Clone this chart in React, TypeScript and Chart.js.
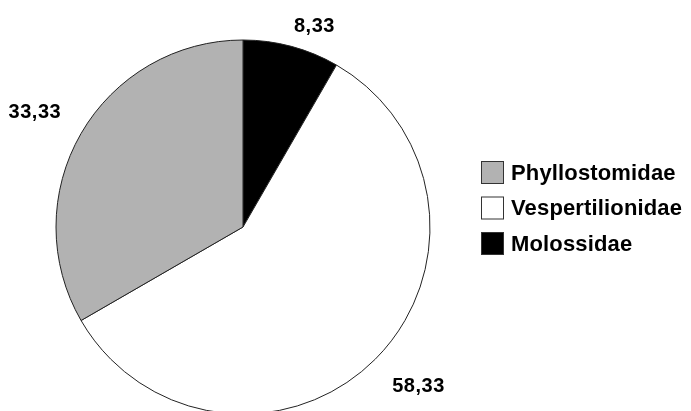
import React, { useEffect, useRef } from "react";
import { Chart, registerables } from "chart.js";

Chart.register(...registerables);

// Legend order (top to bottom)
const categories = ["Phyllostomidae", "Vespertilionidae", "Molossidae"];
const values = [33.33, 58.33, 8.33];
const colors = ["#b2b2b2", "#ffffff", "#000000"];

const FONT = "'Liberation Sans', Arial, Helvetica, sans-serif";

const formatValue = (v: number) => v.toFixed(2).replace(".", ",");

const valueLabelPlugin = {
  id: "valueLabels",
  afterDatasetsDraw(chart: any, _args: any, opts: any) {
    const ctx = chart.ctx;
    const meta = chart.getDatasetMeta(0);
    const ds = chart.data.datasets[0];
    const gaps: number[] = opts.gaps || [];
    ctx.save();
    ctx.font = `bold 20px ${FONT}`;
    (ctx as any).letterSpacing = "0.5px";
    ctx.fillStyle = "#000";
    meta.data.forEach((arc: any, i: number) => {
      const { x, y, startAngle, endAngle, outerRadius } = arc.getProps(
        ["x", "y", "startAngle", "endAngle", "outerRadius"],
        true
      );
      const mid = (startAngle + endAngle) / 2;
      const d = outerRadius + (gaps[i] ?? 23);
      const px = x + Math.cos(mid) * d;
      const py = y + Math.sin(mid) * d;
      ctx.textAlign = Math.cos(mid) >= 0 ? "left" : "right";
      ctx.textBaseline = Math.sin(mid) >= 0 ? "top" : "bottom";
      ctx.fillText(formatValue(ds.data[i]), px, py);
    });
    ctx.restore();
  },
};

const legendPlugin = {
  id: "sideLegend",
  afterDraw(chart: any, _args: any, opts: any) {
    const ctx = chart.ctx;
    const { x, y, box, rowHeight, gap } = opts;
    ctx.save();
    ctx.font = `bold 22px ${FONT}`;
    (ctx as any).letterSpacing = "0.15px";
    ctx.textAlign = "left";
    ctx.textBaseline = "middle";
    categories.forEach((label, i) => {
      const cy = y + i * rowHeight;
      ctx.fillStyle = colors[i];
      ctx.fillRect(x, cy - box / 2, box, box);
      ctx.strokeStyle = "#333";
      ctx.lineWidth = 1;
      ctx.strokeRect(x + 0.5, cy - box / 2 + 0.5, box - 1, box - 1);
      ctx.fillStyle = "#000";
      ctx.fillText(label, x + box + gap, cy + 1);
    });
    ctx.restore();
  },
};

export default function App() {
  const ref = useRef<HTMLCanvasElement | null>(null);

  useEffect(() => {
    if (!ref.current) return;
    // Chart draws clockwise from 12 o'clock; reference goes Molossidae, Vespertilionidae, Phyllostomidae clockwise
    const order = [2, 1, 0];
    const chart = new Chart(ref.current, {
      type: "pie",
      data: {
        labels: order.map((i) => categories[i]),
        datasets: [
          {
            data: order.map((i) => values[i]),
            backgroundColor: order.map((i) => colors[i]),
            borderColor: "#222",
            borderWidth: 1,
            clip: false as any,
          },
        ],
      },
      options: {
        responsive: false,
        animation: false,
        radius: 187,
        layout: { padding: { left: 0, right: 205, top: 43, bottom: 0 } },
        plugins: {
          legend: { display: false },
          tooltip: { enabled: false },
          valueLabels: { gaps: [10, 24, 23] },
          sideLegend: { x: 481, y: 172.5, box: 23, rowHeight: 35.5, gap: 7 },
        } as any,
      } as any,
      plugins: [valueLabelPlugin, legendPlugin],
    });
    return () => chart.destroy();
  }, []);

  return (
    <div style={{ position: "fixed", left: 0, top: 0, width: 691, height: 411, background: "#fff" }}>
      <canvas ref={ref} width={691} height={411} style={{ display: "block" }} />
    </div>
  );
}
